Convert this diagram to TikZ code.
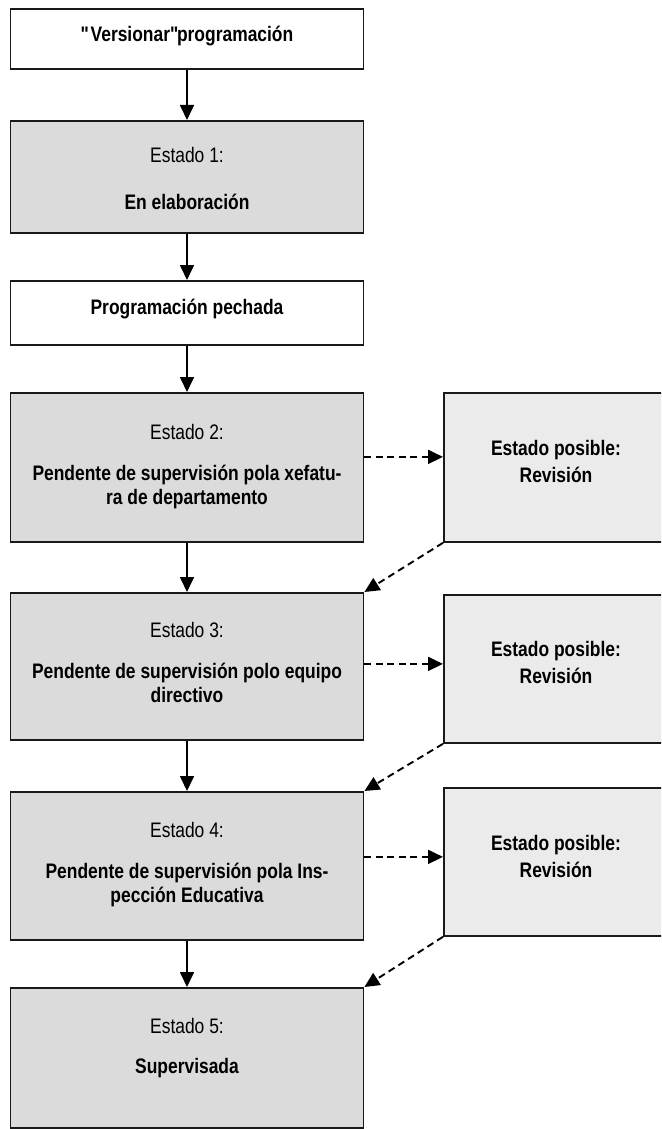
\documentclass[tikz,border=0pt]{standalone}
\usepackage{fontspec}
\setmainfont[FakeStretch=0.83]{Liberation Sans}
\usepackage{xcolor}
\usepackage{tikz}
\usetikzlibrary{arrows.meta}
\colorlet{stategray}{black!14}
\colorlet{revgray}{black!8}
\tikzstyle{box}=[draw=black!90,line width=1.8pt,minimum width=353pt,inner sep=0pt,anchor=north]
\tikzstyle{state}=[box,fill=stategray]
\tikzstyle{revbox}=[box,fill=revgray,minimum width=240pt,anchor=north west]
\tikzstyle{lbl}=[anchor=base,inner sep=0pt,align=center,font=\fontsize{21}{24}\selectfont]
\tikzstyle{blbl}=[lbl,font=\fontsize{21}{24}\selectfont\bfseries]
\tikzstyle{rlbl}=[lbl,font=\fontsize{21}{26.5}\selectfont\bfseries]
\tikzstyle{flow}=[line width=1.7pt,-{Triangle[length=15pt,width=14pt]}]
\tikzstyle{maybe}=[flow,line width=1.9pt,dash pattern=on 7pt off 4.5pt]

\begin{document}
\begin{tikzpicture}[x=1pt,y=-1pt]
	\useasboundingbox (0,0) rectangle (661,1129);
	\clip (0,0) rectangle (661,1129);
	\node[box,minimum height=60pt]    (ver)  at (187,8)   {};
	\node[state,minimum height=112pt] (e1)   at (187,120) {};
	\node[box,minimum height=64pt]    (pech) at (187,280) {};
	\node[state,minimum height=149pt] (e2)   at (187,392) {};
	\node[state,minimum height=147pt] (e3)   at (187,592) {};
	\node[state,minimum height=148pt] (e4)   at (187,791) {};
	\node[state,minimum height=140pt] (e5)   at (187,987) {};
	\node[revbox,minimum height=149pt] (r2)  at (443,392) {};
	\node[revbox,minimum height=148pt] (r3)  at (443,594) {};
	\node[revbox,minimum height=148pt] (r4)  at (443,787) {};
	\node[blbl] (ver-t)  at (187,42)  {\textquotedbl Versionar\textquotedbl\kern-3pt programación};
	\node[lbl]  (e1-a)   at (187,162) {Estado 1:};
	\node[blbl] (e1-b)   at (187,209) {En elaboración};
	\node[blbl] (pech-t) at (187,314) {Programación pechada};
	\node[lbl]  (e2-a)   at (187,439) {Estado 2:};
	\node[blbl] (e2-b)   at (187,504) {Pendente de supervisión pola xefatu-\\ra de departamento};
	\node[lbl]  (e3-a)   at (187,637) {Estado 3:};
	\node[blbl] (e3-b)   at (187,702) {Pendente de supervisión polo equipo\\directivo};
	\node[lbl]  (e4-a)   at (187,837) {Estado 4:};
	\node[blbl] (e4-b)   at (187,902) {Pendente de supervisión pola Ins-\\pección Educativa};
	\node[lbl]  (e5-a)   at (187,1033) {Estado 5:};
	\node[blbl] (e5-b)   at (187,1073) {Supervisada};
	\node[rlbl] (r2-t)   at (556,482) {Estado posible:\\Revisión};
	\node[rlbl] (r3-t)   at (556,683) {Estado posible:\\Revisión};
	\node[rlbl] (r4-t)   at (556,877) {Estado posible:\\Revisión};
	\draw[flow] (ver)  -- (e1);
	\draw[flow] (e1)   -- (pech);
	\draw[flow] (pech) -- (e2);
	\draw[flow] (e2)   -- (e3);
	\draw[flow] (e3)   -- (e4);
	\draw[flow] (e4)   -- (e5);
	\draw[maybe] ([yshift=10.5pt]e2.east) -- ([yshift=10.5pt]e2.east -| r2.west);
	\draw[maybe] ([yshift=2.5pt]e3.east)  -- ([yshift=2.5pt]e3.east -| r3.west);
	\draw[maybe] ([yshift=9pt]e4.east)    -- ([yshift=9pt]e4.east -| r4.west);
	\draw[maybe] (r2.south west) -- (e3.north east);
	\draw[maybe] (r3.south west) -- (e4.north east);
	\draw[maybe] (r4.south west) -- (e5.north east);
\end{tikzpicture}
\end{document}
